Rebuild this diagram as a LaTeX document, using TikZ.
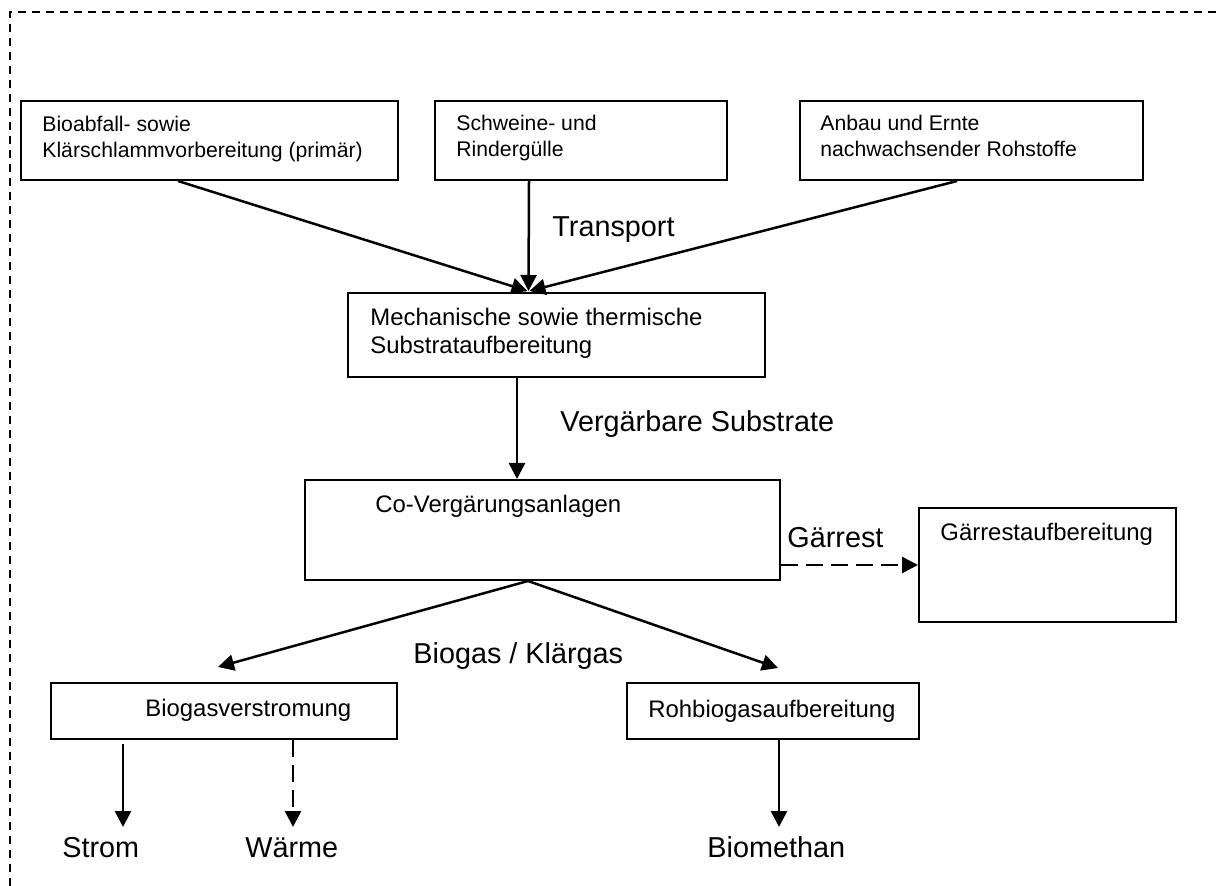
\documentclass[tikz,border=0pt]{standalone}
\usepackage{fontspec}
\setmainfont{Liberation Sans}
\usetikzlibrary{arrows.meta,calc}
\begin{document}
\begin{tikzpicture}[x=0.5pt,y=-0.5pt,
  box/.style={draw, line width=1pt, inner sep=0pt},
  txt/.style={anchor=base west, inner sep=0pt, align=left},
  topfont/.style={font=\fontsize{10.6}{13}\selectfont},
  boxfont/.style={font=\fontsize{11.95}{14}\selectfont},
  lblfont/.style={font=\fontsize{14.4}{17}\selectfont},
  arr/.style={line width=1.25pt, -{Triangle[length=8pt,width=8pt]}},
  darr/.style={arr, dash pattern=on 8.5pt off 4pt}]
  % page frame
  \useasboundingbox (0,0) rectangle (1219,886);
  \draw[line width=0.8pt, dash pattern=on 4pt off 3pt] (10,886) -- (10,12) -- (1219,12);

  % boxes
  \node[box, minimum width=188.5pt, minimum height=39.5pt] (bio) at (209.5,140.5) {};
  \node[box, minimum width=146pt,   minimum height=39.5pt] (sch) at (581,140.5) {};
  \node[box, minimum width=171.5pt, minimum height=39.5pt] (anb) at (971.5,140.5) {};
  \node[box, minimum width=208.5pt, minimum height=42pt]   (mech) at (556.5,335) {};
  \node[box, minimum width=237.5pt, minimum height=50pt]   (co) at (542.5,530) {};
  \node[box, minimum width=128.5pt, minimum height=57pt]   (gaer) at (1047.5,565) {};
  \node[box, minimum width=173pt,   minimum height=28pt]   (bv) at (224,711) {};
  \node[box, minimum width=146pt,   minimum height=28pt]   (rb) at (773,711) {};

  % box texts (two-line texts are placed by the baseline of their last line)
  \node[txt, topfont] (tbio) at (42,158) {Bioabfall- sowie\\Klärschlammvorbereitung (primär)};
  \node[txt, topfont] (tsch) at (456,157) {Schweine- und\\Rindergülle};
  \node[txt, topfont] (tanb) at (820,157) {Anbau und Ernte\\nachwachsender Rohstoffe};
  \node[txt, boxfont] (tmech) at (370,354) {Mechanische sowie thermische\\Substrataufbereitung};
  \node[txt, boxfont] (tco) at (375,513) {Co-Vergärungsanlagen};
  \node[txt, boxfont] (tgaer) at (940,541) {Gärrestaufbereitung};
  \node[txt, boxfont] (tbv) at (145,716) {Biogasverstromung};
  \node[txt, boxfont] (trb) at (648,717) {Rohbiogasaufbereitung};

  % flow labels
  \node[txt, lblfont] (ltrans) at (552,237) {Transport};
  \node[txt, lblfont] (lverg) at (560,432) {Vergärbare Substrate};
  \node[txt, lblfont] (lgaer) at (787,547) {Gärrest};
  \node[txt, lblfont] (lbio) at (413,663) {Biogas / Klärgas};
  \node[txt, lblfont] (strom) at (62,857) {Strom};
  \node[txt, lblfont] (waerme) at (245,857) {Wärme};
  \node[txt, lblfont] (methan) at (707,857) {Biomethan};

  % connectors
  \draw[arr] ($(bio.south)+(-31.5,0)$) -- ($(mech.north)+(-29,-1)$);
  \draw[arr] ($(sch.south)+(-52,0)$) -- ($(mech.north)+(-28,-1)$);
  \draw[arr] ($(anb.south)+(-14.5,0)$) -- ($(mech.north)+(-27,-1)$);
  \draw[arr] ($(mech.south)+(-39.5,0)$) -- ($(co.north)+(-25.5,0)$);
  \draw[darr] ($(co.east)+(0,35)$) -- (gaer.west);
  \coordinate (bvin) at ($(bv.north)+(-6,-15)$);
  \coordinate (rbin) at ($(rb.north)+(5,-14)$);
  \draw[arr] ($(co.south)+(-14.5,0)$) -- (bvin);
  \draw[arr] ($(co.south)+(-14.5,0)$) -- (rbin);
  \coordinate (stromin) at (123,827);
  \coordinate (waermein) at (293,827);
  \coordinate (methanin) at (779,827);
  \draw[arr] ($(bv.south)+(-101,4)$) -- (stromin);
  \draw[darr] ($(bv.south)+(69,0)$) -- (waermein);
  \draw[arr] ($(rb.south)+(6,0)$) -- (methanin);
\end{tikzpicture}
\end{document}
